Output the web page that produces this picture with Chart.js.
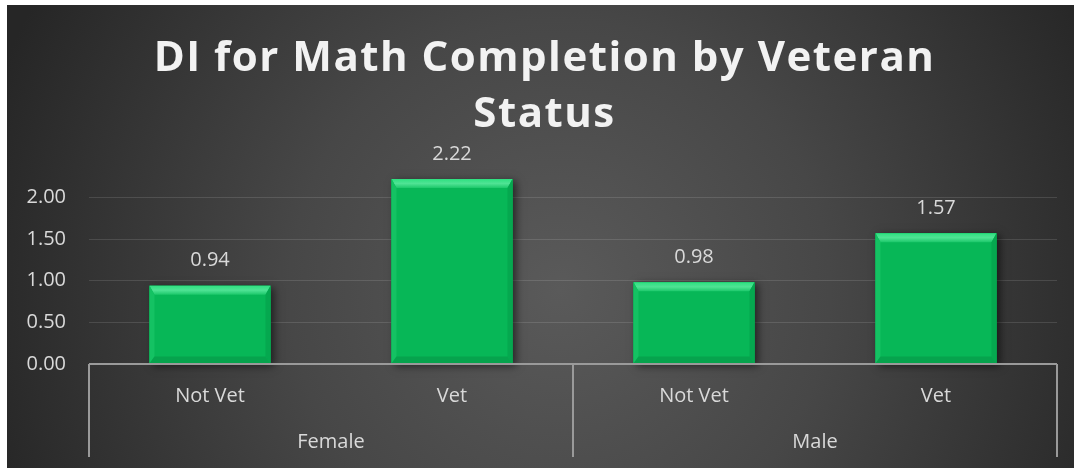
<!DOCTYPE html>
<html>
<head>
<meta charset="utf-8">
<script src="https://cdn.jsdelivr.net/npm/chart.js@4"></script>
<style>
html,body{margin:0;padding:0;background:#fff;}
#wrap{position:relative;width:1074px;height:468px;}
</style>
</head>
<body>
<div id="wrap"><canvas id="c" width="1074" height="468"></canvas></div>
<script>
// ---- data ----
const chartTitle = ['DI for Math Completion by Veteran', 'Status'];
const categories = ['Not Vet', 'Vet', 'Not Vet', 'Vet'];
const groups = ['Female', 'Male'];
const groupIndex = [0, 0, 1, 1];
const values = [0.94, 2.22, 0.98, 1.57];
const yMin = 0, yMax = 2.5, yStep = 0.5;
const shownTicks = [0, 0.5, 1, 1.5, 2];

const FONT = "'Open Sans', 'DejaVu Sans', sans-serif";
const TXT = '#d9d9d9';

const bgPlugin = {
  id: 'bg',
  beforeDraw(chart) {
    const ctx = chart.ctx;
    ctx.save();
    ctx.fillStyle = '#ffffff';
    ctx.fillRect(0, 0, chart.width, chart.height);
    const g = ctx.createRadialGradient(560, 290, 0, 560, 290, 600);
    g.addColorStop(0, '#5a5a5a');
    g.addColorStop(0.45, '#474747');
    g.addColorStop(1, '#262626');
    ctx.fillStyle = g;
    ctx.fillRect(7, 5, chart.width - 7, chart.height - 5);
    ctx.restore();
    // title letter spacing + centring over the dark panel
    const tb = chart.titleBlock;
    if (tb && !tb._spaced) {
      const orig = tb.draw.bind(tb);
      tb.draw = function (area) {
        const c = this.ctx;
        c.save();
        c.letterSpacing = '1.5px';
        c.translate(16, 0);
        orig(area);
        c.restore();
      };
      tb._spaced = true;
    }
  }
};

const barFx = {
  id: 'barFx',
  beforeDatasetsDraw(chart) {
    const ctx = chart.ctx;
    const meta = chart.getDatasetMeta(0);
    ctx.save();
    meta.data.forEach(b => {
      const w = b.width, x0 = b.x - w / 2;
      ctx.shadowColor = 'rgba(0,0,0,0.55)';
      ctx.shadowBlur = 8;
      ctx.shadowOffsetX = 3;
      ctx.shadowOffsetY = 2;
      ctx.fillStyle = '#07b757';
      ctx.fillRect(x0, b.y, w, b.base - b.y);
    });
    ctx.restore();
  },
  afterDatasetsDraw(chart) {
    const ctx = chart.ctx;
    const meta = chart.getDatasetMeta(0);
    ctx.save();
    meta.data.forEach((b, i) => {
      const w = b.width, x0 = b.x - w / 2, x1 = b.x + w / 2;
      const y0 = b.y, y1 = b.base;
      const t = 9, s = 5, bt = 7;
      let g = ctx.createLinearGradient(0, y0, 0, y0 + t);
      g.addColorStop(0, '#2ee080');
      g.addColorStop(0.5, '#4fe394');
      g.addColorStop(1, '#1cc86a');
      ctx.fillStyle = g;
      ctx.beginPath();
      ctx.moveTo(x0, y0); ctx.lineTo(x1, y0); ctx.lineTo(x1 - s, y0 + t); ctx.lineTo(x0 + s, y0 + t); ctx.closePath();
      ctx.fill();
      ctx.fillStyle = '#14c263';
      ctx.beginPath();
      ctx.moveTo(x0, y0); ctx.lineTo(x0 + s, y0 + t); ctx.lineTo(x0 + s, y1 - bt); ctx.lineTo(x0, y1); ctx.closePath();
      ctx.fill();
      ctx.fillStyle = '#05a84f';
      ctx.beginPath();
      ctx.moveTo(x1, y0); ctx.lineTo(x1 - s, y0 + t); ctx.lineTo(x1 - s, y1 - bt); ctx.lineTo(x1, y1); ctx.closePath();
      ctx.fill();
      ctx.fillStyle = '#06a34d';
      ctx.beginPath();
      ctx.moveTo(x0, y1); ctx.lineTo(x0 + s, y1 - bt); ctx.lineTo(x1 - s, y1 - bt); ctx.lineTo(x1, y1); ctx.closePath();
      ctx.fill();
      ctx.fillStyle = TXT;
      ctx.font = '20px ' + FONT;
      ctx.textAlign = 'center';
      ctx.textBaseline = 'middle';
      ctx.fillText(values[i].toFixed(2), b.x, y0 - 25);
    });
    ctx.restore();
  }
};

const groupAxis = {
  id: 'groupAxis',
  afterDraw(chart) {
    const ctx = chart.ctx;
    const a = chart.chartArea;
    const xs = chart.scales.x;
    const bottom = 457;
    ctx.save();
    ctx.strokeStyle = '#9a9a9a';
    ctx.lineWidth = 2;
    ctx.beginPath();
    ctx.moveTo(a.left, a.bottom); ctx.lineTo(a.right, a.bottom);
    ctx.stroke();
    const half = (xs.getPixelForValue(1) - xs.getPixelForValue(0)) / 2;
    const seps = [a.left];
    groups.forEach((gname, gi) => {
      const idx = groupIndex.map((g, k) => g === gi ? k : -1).filter(k => k >= 0);
      seps.push(xs.getPixelForValue(idx[idx.length - 1]) + half);
    });
    seps.forEach(x => {
      ctx.beginPath();
      ctx.moveTo(Math.round(x), a.bottom); ctx.lineTo(Math.round(x), bottom);
      ctx.stroke();
    });
    ctx.fillStyle = TXT;
    ctx.font = '20px ' + FONT;
    ctx.textAlign = 'center';
    ctx.textBaseline = 'middle';
    groups.forEach((gname, gi) => {
      const idx = groupIndex.map((g, k) => g === gi ? k : -1).filter(k => k >= 0);
      const cx = (xs.getPixelForValue(idx[0]) + xs.getPixelForValue(idx[idx.length - 1])) / 2;
      ctx.fillText(gname, cx, 442);
    });
    ctx.restore();
  }
};

new Chart(document.getElementById('c'), {
  type: 'bar',
  data: {
    labels: categories,
    datasets: [{
      data: values,
      backgroundColor: '#07b757',
      borderWidth: 0,
      categoryPercentage: 1,
      barPercentage: 0.5
    }]
  },
  options: {
    responsive: false,
    animation: false,
    devicePixelRatio: 1,
    layout: { padding: { left: 0, right: 17, top: 0, bottom: 0 } },
    plugins: {
      legend: { display: false },
      tooltip: { enabled: false },
      title: {
        display: true,
        text: chartTitle,
        color: '#f2f2f2',
        font: { family: FONT, size: 42, weight: 'bold', lineHeight: 1.33 },
        padding: { top: 31, bottom: 13 }
      }
    },
    scales: {
      x: {
        grid: { display: false, drawTicks: false },
        border: { display: false },
        ticks: { color: TXT, font: { family: FONT, size: 20 }, padding: 20, maxRotation: 0 },
        afterFit(s) { s.height = 104; }
      },
      y: {
        min: yMin, max: yMax,
        afterBuildTicks(s) { s.ticks = [0, 0.5, 1, 1.5, 2, 2.5].map(v => ({ value: v })); },
        grid: {
          drawTicks: false,
          color: ctx => (shownTicks.includes(ctx.tick.value) && ctx.tick.value !== 0) ? 'rgba(255,255,255,0.12)' : 'rgba(0,0,0,0)',
          lineWidth: 1
        },
        border: { display: false },
        ticks: {
          stepSize: yStep,
          color: TXT,
          font: { family: FONT, size: 20 },
          padding: 23,
          callback: v => shownTicks.includes(v) ? v.toFixed(2) : ''
        },
        afterFit(s) { s.width = 89; }
      }
    }
  },
  plugins: [bgPlugin, barFx, groupAxis]
});
</script>
</body>
</html>
